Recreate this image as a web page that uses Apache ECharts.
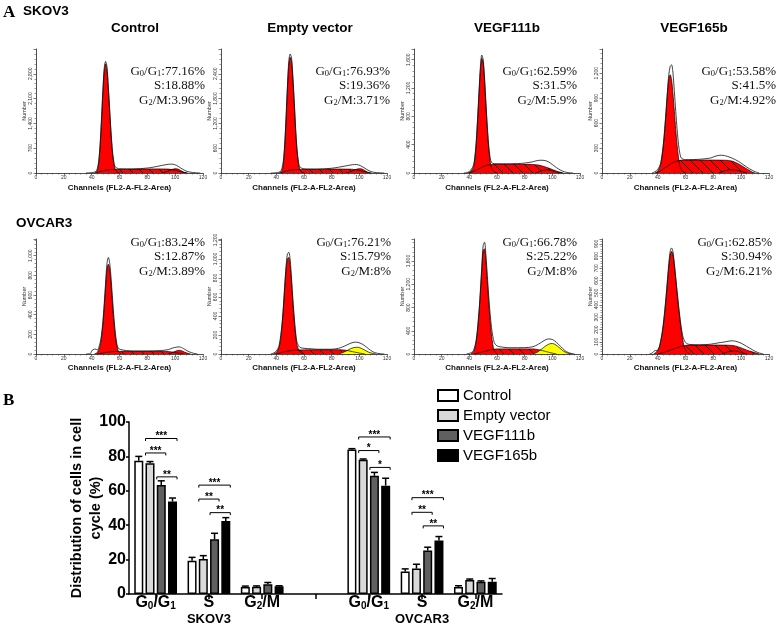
<!DOCTYPE html>
<html><head><meta charset="utf-8">
<script src="https://cdn.jsdelivr.net/npm/echarts@6/dist/echarts.min.js"></script>
<style>html,body{margin:0;padding:0;background:#fff}#c{width:778px;height:635px}</style>
</head><body><div id="c"></div>
<script>
// ================= DATA =================
// ---- Panel A: column titles, cell lines, phase percentages ----
const panelTitles = ['Control', 'Empty vector', 'VEGF111b', 'VEGF165b'];
const cellLines = ['SKOV3', 'OVCAR3'];
const skovG1 = ['77.16', '76.93', '62.59', '53.58'];
const skovS  = ['18.88', '19.36', '31.5', '41.5'];
const skovG2 = ['3.96', '3.71', '5.9', '4.92'];
const ovcG1  = ['83.24', '76.21', '66.78', '62.85'];
const ovcS   = ['12.87', '15.79', '25.22', '30.94'];
const ovcG2  = ['3.89', '8', '8', '6.21'];
const histXTitle = 'Channels (FL2-A-FL2-Area)';
const histYTitle = 'Number';
// y-axis extents / tick steps of each histogram (SKOV3 x4, then OVCAR3 x4)
const histYMax  = [3500, 3000, 1750, 1490, 1170, 1210, 1980, 940];
const histYStep = [700, 600, 400, 300, 200, 200, 400, 100];

// ---- Histogram curves  [channel, count] ----
// SKOV3 Control
const skCtlS   = [[43,0],[46,40],[50,80],[55,100],[65,105],[75,110],[85,115],[95,110],[100,80],[104,40],[108,0]];
const skCtlG1  = [[42,0],[44,60],[45,250],[46,700],[47,1400],[48,2200],[49,2850],[50,3080],[51,2900],[52,2350],[53,1700],[54,1050],[55,550],[56,250],[57,100],[58,30],[60,0]];
const skCtlG2  = [[90,0],[94,40],[97,90],[100,120],[102,110],[104,70],[106,25],[109,0]];
const skCtlRaw = [[36,0],[40,10],[43,40],[44,120],[45,320],[46,780],[47,1500],[48,2300],[49,2950],[50,3150],[51,3000],[52,2420],[53,1760],[54,1100],[55,600],[56,300],[57,170],[60,120],[70,115],[80,140],[85,170],[90,210],[95,245],[98,250],[101,215],[104,140],[107,70],[110,30],[115,5],[118,0]];
// SKOV3 Empty vector
const skEvS   = [[43,0],[46,35],[50,70],[55,85],[70,90],[85,95],[95,90],[100,65],[104,30],[108,0]];
const skEvG1  = [[42,0],[44,50],[45,200],[46,600],[47,1250],[48,2000],[49,2600],[50,2800],[51,2700],[52,2250],[53,1650],[54,1000],[55,520],[56,230],[57,90],[58,30],[60,0]];
const skEvG2  = [[90,0],[94,35],[97,80],[100,105],[102,95],[104,60],[106,20],[109,0]];
const skEvRaw = [[36,0],[41,10],[43,40],[44,100],[45,280],[46,680],[47,1350],[48,2100],[49,2700],[50,2880],[51,2780],[52,2300],[53,1700],[54,1050],[55,560],[56,270],[57,150],[60,100],[70,95],[80,115],[85,140],[90,170],[95,200],[98,205],[101,175],[104,115],[107,55],[110,20],[115,3],[118,0]];
// SKOV3 VEGF111b
const sk111S   = [[40,0],[44,30],[48,70],[52,105],[56,120],[65,122],[75,122],[85,120],[90,112],[95,85],[100,50],[104,20],[108,0]];
const sk111G1  = [[39,0],[41,20],[43,80],[44,200],[45,420],[46,750],[47,1120],[48,1450],[49,1620],[50,1560],[51,1300],[52,950],[53,620],[54,350],[55,170],[56,70],[58,15],[60,0]];
const sk111G2  = [[88,0],[92,30],[95,45],[98,40],[101,25],[104,8],[107,0]];
const sk111Raw = [[36,0],[39,10],[41,40],[43,110],[44,230],[45,450],[46,780],[47,1150],[48,1500],[49,1665],[50,1600],[51,1340],[52,990],[53,660],[54,390],[55,220],[56,150],[58,132],[65,130],[75,133],[80,140],[85,155],[88,170],[91,180],[94,178],[97,160],[100,120],[103,75],[106,40],[109,15],[112,3],[115,0]];
// SKOV3 VEGF165b
const sk165S   = [[39,0],[42,25],[46,70],[50,115],[54,145],[58,155],[70,155],[80,155],[90,152],[94,140],[98,110],[102,70],[105,40],[108,10],[110,0]];
const sk165G1  = [[38,0],[40,20],[42,90],[43,180],[44,320],[45,500],[46,720],[47,950],[48,1130],[49,1180],[50,1120],[51,950],[52,740],[53,520],[54,330],[55,180],[56,80],[58,20],[60,0]];
const sk165G2  = [[84,0],[88,25],[92,40],[96,35],[100,20],[104,0]];
const sk165Raw = [[36,0],[38,15],[40,40],[42,110],[44,330],[46,740],[47,980],[48,1180],[49,1280],[50,1300],[51,1200],[52,980],[53,740],[54,520],[55,340],[56,230],[57,180],[60,160],[70,165],[78,180],[82,205],[86,214],[90,200],[94,175],[98,140],[102,95],[106,50],[110,15],[113,0]];
// OVCAR3 Control
const ovCtlS   = [[44,0],[50,15],[55,25],[70,28],[85,28],[95,25],[100,15],[104,5],[106,0]];
const ovCtlG1  = [[42,0],[44,15],[46,80],[47,160],[48,290],[49,470],[50,680],[51,860],[52,913],[53,860],[54,700],[55,500],[56,320],[57,180],[58,90],[59,35],[61,0]];
const ovCtlG2  = [[95,0],[98,15],[101,32],[103,38],[105,30],[108,12],[111,0]];
const ovCtlRaw = [[36,0],[39,3],[40,30],[41,45],[43,50],[44,40],[46,110],[47,190],[48,320],[49,510],[50,720],[51,920],[52,982],[53,920],[54,760],[55,560],[56,370],[57,220],[58,110],[59,60],[61,45],[65,35],[70,30],[80,30],[90,35],[95,45],[98,60],[101,70],[103,72],[106,55],[109,30],[112,12],[116,0]];
// OVCAR3 Empty vector
const ovEvS   = [[40,0],[45,20],[50,35],[55,42],[70,45],[85,45],[90,40],[95,25],[100,10],[104,0]];
const ovEvG1  = [[38,0],[40,15],[42,70],[43,150],[44,280],[45,460],[46,680],[47,880],[48,1000],[49,1016],[50,930],[51,740],[52,530],[53,340],[54,190],[55,90],[57,25],[59,0]];
const ovEvG2  = [[85,0],[88,15],[91,35],[94,58],[97,70],[99,71],[101,62],[104,40],[107,18],[110,5],[112,0]];
const ovEvRaw = [[36,0],[38,10],[40,30],[42,90],[44,300],[45,480],[46,710],[47,920],[48,1050],[49,1070],[50,990],[51,790],[52,570],[53,380],[54,220],[55,120],[57,70],[60,60],[65,55],[70,50],[80,50],[85,60],[88,75],[91,95],[94,115],[97,125],[99,122],[102,105],[105,75],[108,40],[111,15],[115,3],[118,0]];
// OVCAR3 VEGF111b
const ov111S   = [[43,0],[48,25],[52,50],[56,75],[60,87],[70,88],[80,88],[87,86],[91,70],[95,45],[99,20],[103,0]];
const ov111G1  = [[41,0],[43,40],[44,100],[45,220],[46,420],[47,700],[48,1050],[49,1450],[50,1780],[51,1810],[52,1600],[53,1250],[54,900],[55,580],[56,330],[57,160],[58,60],[60,0]];
const ov111G2  = [[86,0],[89,30],[92,80],[95,135],[98,175],[100,180],[102,165],[105,110],[108,50],[111,15],[114,0]];
const ov111Raw = [[38,0],[41,20],[43,60],[45,250],[47,740],[48,1100],[49,1500],[50,1870],[51,1925],[52,1700],[53,1350],[54,1000],[55,700],[56,460],[57,300],[58,200],[60,140],[65,115],[70,108],[80,110],[86,125],[90,170],[94,230],[97,258],[100,250],[103,200],[106,130],[109,60],[112,20],[116,0]];
// OVCAR3 VEGF165b
const ov165S   = [[40,0],[45,15],[50,35],[55,55],[61,72],[70,73],[80,73],[90,72],[95,68],[100,50],[105,28],[110,10],[113,0]];
const ov165G1  = [[37,0],[39,15],[41,50],[42,90],[43,150],[44,230],[45,330],[46,450],[47,580],[48,710],[49,810],[50,839],[51,810],[52,720],[53,610],[54,490],[55,380],[56,280],[57,190],[58,120],[59,60],[61,15],[63,0]];
const ov165G2  = [[86,0],[90,15],[94,25],[97,22],[100,12],[104,0]];
const ov165Raw = [[34,0],[36,8],[38,28],[40,30],[42,100],[44,240],[46,470],[48,740],[49,840],[50,867],[51,835],[52,740],[54,510],[56,300],[58,150],[60,95],[63,78],[70,75],[78,80],[84,92],[88,98],[93,108],[96,104],[100,88],[104,62],[108,35],[112,12],[116,0]];

// ---- Panel B: bar chart ----
const phaseCats = ['G0/G1', 'S', 'G2/M', '', 'G0/G1', 'S', 'G2/M'];
const lineCats  = ['', 'SKOV3', '', '', '', 'OVCAR3', ''];
const groupNames = ['Control', 'Empty vector', 'VEGF111b', 'VEGF165b'];
const ctrlMean = [77.5, 19.3, 4.1, null, 84.0, 13.1, 4.0];
const ctrlErr  = [2.5, 2.0, 0.5, null, 0.5, 1.5, 0.8];
const evMean   = [76.0, 20.3, 4.2, null, 78.0, 14.8, 8.1];
const evErr    = [1.0, 2.0, 0.5, null, 0.5, 2.5, 0.6];
const v111Mean = [63.3, 31.8, 5.7, null, 68.7, 25.3, 7.1];
const v111Err  = [2.5, 3.5, 1.0, null, 2.0, 1.9, 0.5];
const v165Mean = [53.8, 42.4, 4.5, null, 63.0, 31.1, 7.1];
const v165Err  = [2.0, 2.0, 0.3, null, 4.3, 2.3, 1.9];
const yTitleB = 'Distribution of cells in cell\ncycle (%)';
// significance brackets: category index, from bar, to bar, height (%), stars
const brCat   = [0, 0, 0, 1, 1, 1, 4, 4, 4, 5, 5, 5];
const brFrom  = [1, 1, 2, 1, 1, 2, 1, 1, 2, 1, 1, 2];
const brTo    = [3, 2, 3, 3, 2, 3, 3, 2, 3, 3, 2, 3];
const brY     = [90.4, 82.0, 68.1, 63.3, 55.2, 47.3, 91.3, 83.4, 73.6, 56.0, 47.5, 39.6];
const brStars = ['***', '***', '**', '***', '**', '**', '***', '*', '*', '***', '**', '**'];

// ================= LAYOUT / STYLE =================
const SANS = 'Arial, "Liberation Sans", sans-serif';
const SERIF = '"Times New Roman", "Liberation Serif", serif';
const histLeft = [36, 221, 414, 602];
const histWidth = [167, 166, 166, 167];
const rowTop = [49, 239];
const rowHeight = [124, 115];
const annotRight = [[205, 390, 577, 776], [205, 391, 577, 772]];
const annotTop = [64, 235];
const titleCenter = [135, 310, 507, 694];
const RED = '#ff0000', YELLOW = '#ffff00';
const g2Colors = [RED, RED, RED, RED, RED, YELLOW, YELLOW, RED];
const barColors = ['#ffffff', '#d9d9d9', '#606060', '#000000'];
const BAR_W = 9, BAR_STEP = 11.25;

const histSets = [
  [skCtlS, skCtlG1, skCtlG2, skCtlRaw], [skEvS, skEvG1, skEvG2, skEvRaw],
  [sk111S, sk111G1, sk111G2, sk111Raw], [sk165S, sk165G1, sk165G2, sk165Raw],
  [ovCtlS, ovCtlG1, ovCtlG2, ovCtlRaw], [ovEvS, ovEvG1, ovEvG2, ovEvRaw],
  [ov111S, ov111G1, ov111G2, ov111Raw], [ov165S, ov165G1, ov165G2, ov165Raw]
];
const phaseRows = [[skovG1, skovS, skovG2], [ovcG1, ovcS, ovcG2]];

function makeHatch() {
  const c = document.createElement('canvas');
  c.width = 10; c.height = 10;
  const g = c.getContext('2d');
  g.fillStyle = RED; g.fillRect(0, 0, 10, 10);
  g.strokeStyle = '#000'; g.lineWidth = 0.9;
  g.beginPath();
  g.moveTo(0, 0); g.lineTo(10, 10);
  g.moveTo(-2, 8); g.lineTo(2, 12);
  g.moveTo(8, -2); g.lineTo(12, 2);
  g.stroke();
  return c;
}
const hatch = { image: makeHatch(), repeat: 'repeat' };

const grids = [], xAxes = [], yAxes = [], series = [], titles = [];
const T = (o) => Object.assign({ padding: 0 }, o);

titles.push(T({ text: 'A', left: 3, top: 4, textStyle: { fontFamily: SERIF, fontWeight: 'bold', fontSize: 17, color: '#000' } }));
titles.push(T({ text: 'B', left: 3, top: 392, textStyle: { fontFamily: SERIF, fontWeight: 'bold', fontSize: 17, color: '#000' } }));
titles.push(T({ text: cellLines[0], left: 23, top: 4, textStyle: { fontFamily: SANS, fontWeight: 'bold', fontSize: 13.5, color: '#000' } }));
titles.push(T({ text: cellLines[1], left: 16, top: 216, textStyle: { fontFamily: SANS, fontWeight: 'bold', fontSize: 13.5, color: '#000' } }));
panelTitles.forEach((t, i) => titles.push(T({
  text: t, left: titleCenter[i], top: 21, textAlign: 'center',
  textStyle: { fontFamily: SANS, fontWeight: 'bold', fontSize: 13.5, color: '#000' }
})));

for (let k = 0; k < 8; k++) {
  const row = Math.floor(k / 4), col = k % 4;
  grids.push({ left: histLeft[col], top: rowTop[row], width: histWidth[col], height: rowHeight[row], containLabel: false, outerBoundsMode: 'none' });
  xAxes.push({
    type: 'value', gridIndex: k, min: 0, max: 120, interval: 20,
    axisLine: { show: true, onZero: false, lineStyle: { color: '#222', width: 0.8 } },
    axisTick: { show: true, length: 2.5, lineStyle: { color: '#222', width: 0.6 } },
    minorTick: { show: true, splitNumber: 5, length: 1.5, lineStyle: { color: '#333', width: 0.5 } },
    splitLine: { show: false },
    axisLabel: { fontSize: 5, margin: 2.5, color: '#333', fontFamily: SANS },
    name: histXTitle, nameLocation: 'middle', nameGap: row === 0 ? 11 : 9.5, nameMoveOverlap: false,
    nameTextStyle: { fontFamily: SANS, fontWeight: 'bold', fontSize: 8, color: '#111' }
  });
  yAxes.push({
    type: 'value', gridIndex: k, min: 0, max: histYMax[k], interval: histYStep[k],
    axisLine: { show: true, lineStyle: { color: '#222', width: 0.8 } },
    axisTick: { show: true, length: 2.5, lineStyle: { color: '#222', width: 0.6 } },
    minorTick: { show: true, splitNumber: 5, length: 1.5, lineStyle: { color: '#333', width: 0.5 } },
    splitLine: { show: false },
    axisLabel: { fontSize: 5, rotate: 90, margin: 3, color: '#333', showMaxLabel: false, fontFamily: SANS },
    name: histYTitle, nameLocation: 'middle', nameGap: 9, nameRotate: 90, nameMoveOverlap: false,
    nameTextStyle: { fontFamily: SANS, fontSize: 5.5, color: '#333' }
  });
  const [sD, g1D, g2D, rawD] = histSets[k];
  const base = { type: 'line', xAxisIndex: k, yAxisIndex: k, showSymbol: false, symbol: 'none', smooth: 0.3, silent: true };
  series.push(Object.assign({}, base, { data: sD, smooth: 0.15, lineStyle: { color: '#000', width: 0.7 }, areaStyle: { color: hatch, opacity: 1 } }));
  series.push(Object.assign({}, base, { data: g1D, lineStyle: { color: '#000', width: 0.7 }, areaStyle: { color: RED, opacity: 1 } }));
  series.push(Object.assign({}, base, { data: g2D, lineStyle: { color: '#000', width: 0.7 }, areaStyle: { color: g2Colors[k], opacity: 1 } }));
  series.push(Object.assign({}, base, { data: rawD, lineStyle: { color: '#111', width: 0.8 } }));

  const ph = phaseRows[row];
  titles.push(T({
    text: 'G{s|0}/G{s|1}:' + ph[0][col] + '%\nS:' + ph[1][col] + '%\nG{s|2}/M:' + ph[2][col] + '%',
    left: annotRight[row][col], top: annotTop[row], textAlign: 'right',
    textStyle: {
      fontFamily: SERIF, fontSize: 13, fontWeight: 'normal', color: '#111', lineHeight: 14.5,
      rich: { s: { fontFamily: SERIF, fontSize: 8.5, lineHeight: 8, verticalAlign: 'bottom', color: '#111' } }
    }
  }));
}

// ---- Panel B ----
const BG = 8;
grids.push({ left: 129, top: 422, width: 373, height: 172, containLabel: false, outerBoundsMode: 'none' });
const subFmt = v => v.replace(/G(\d)/g, 'G{s|$1}');
xAxes.push({
  type: 'category', gridIndex: BG, data: phaseCats, position: 'bottom',
  axisLine: { show: true, lineStyle: { color: '#000', width: 1.5 } },
  axisTick: { show: true, alignWithLabel: true, length: 5, lineStyle: { color: '#000', width: 1.5 } },
  axisLabel: {
    interval: 0, margin: 1, formatter: subFmt, fontFamily: SANS, fontWeight: 'bold', fontSize: 16, lineHeight: 16, color: '#000',
    rich: { s: { fontFamily: SANS, fontWeight: 'bold', fontSize: 10, lineHeight: 8, verticalAlign: 'bottom', color: '#000' } }
  }
});
xAxes.push({
  type: 'category', gridIndex: BG, data: lineCats, position: 'bottom', offset: 17,
  axisLine: { show: false }, axisTick: { show: false },
  axisLabel: { interval: 0, margin: 1, fontFamily: SANS, fontWeight: 'bold', fontSize: 13, lineHeight: 14, color: '#000' }
});
yAxes.push({
  type: 'value', gridIndex: BG, min: 0, max: 100, interval: 20,
  axisLine: { show: true, lineStyle: { color: '#000', width: 1.5 } },
  axisTick: { show: true, length: 3, lineStyle: { color: '#000', width: 1.5 } },
  splitLine: { show: false },
  axisLabel: { fontFamily: SANS, fontWeight: 'bold', fontSize: 16, color: '#000', margin: 3 },
  name: yTitleB, nameLocation: 'middle', nameRotate: 90, nameGap: 24, nameMoveOverlap: false,
  nameTextStyle: { fontFamily: SANS, fontWeight: 'bold', fontSize: 14.5, lineHeight: 19, color: '#000', align: 'center' }
});
const means = [ctrlMean, evMean, v111Mean, v165Mean];
const errs = [ctrlErr, evErr, v111Err, v165Err];
groupNames.forEach((n, s) => series.push({
  name: n, type: 'bar', xAxisIndex: BG, yAxisIndex: BG, data: means[s], barWidth: BAR_W, barGap: '25%',
  itemStyle: { color: barColors[s], borderColor: '#000', borderWidth: 1.5 }, silent: true
}));
const errData = [];
means.forEach((m, s) => m.forEach((v, c) => { if (v != null) errData.push([c, s, v, errs[s][c]]); }));
series.push({
  type: 'custom', xAxisIndex: BG, yAxisIndex: BG, data: errData, encode: { x: 0, y: 2 }, silent: true, z: 3,
  renderItem(params, api) {
    const c = api.value(0), s = api.value(1), m = api.value(2), e = api.value(3);
    const p0 = api.coord([c, m]), p1 = api.coord([c, m + e]);
    const x = p0[0] + (s - 1.5) * BAR_STEP;
    return { type: 'group', children: [
      { type: 'line', shape: { x1: x, y1: p0[1], x2: x, y2: p1[1] }, style: { stroke: '#000', lineWidth: 1.5 } },
      { type: 'line', shape: { x1: x - 3.5, y1: p1[1], x2: x + 3.5, y2: p1[1] }, style: { stroke: '#000', lineWidth: 1.5 } }
    ] };
  }
});
const brData = brCat.map((c, i) => [c, brFrom[i], brTo[i], brY[i]]);
series.push({
  type: 'custom', xAxisIndex: BG, yAxisIndex: BG, data: brData, encode: { x: 0, y: 3 }, silent: true, z: 4,
  renderItem(params, api) {
    const c = api.value(0), f = api.value(1), t = api.value(2), y = api.value(3);
    const p = api.coord([c, y]);
    const xl = p[0] + (f - 1.5) * BAR_STEP - BAR_W / 2;
    const xr = p[0] + (t - 1.5) * BAR_STEP + BAR_W / 2;
    return { type: 'group', children: [
      { type: 'polyline', shape: { points: [[xl, p[1] + 2.5], [xl, p[1]], [xr, p[1]], [xr, p[1] + 2.5]] }, style: { stroke: '#000', lineWidth: 1, fill: null } },
      { type: 'text', x: (xl + xr) / 2, y: p[1] + 3, style: { text: brStars[params.dataIndex], textAlign: 'center', textVerticalAlign: 'bottom', font: 'bold 10px ' + SANS, fill: '#000' } }
    ] };
  }
});

const option = {
  animation: false, backgroundColor: '#fff',
  textStyle: { fontFamily: SANS },
  title: titles,
  legend: {
    data: groupNames, orient: 'vertical', left: 437, top: 388, padding: 0, itemWidth: 20, itemHeight: 11, itemGap: 5,
    icon: 'rect', textStyle: { fontFamily: SANS, fontSize: 15, color: '#000' }, selectedMode: false
  },
  grid: grids, xAxis: xAxes, yAxis: yAxes, series: series
};
const chart = echarts.init(document.getElementById('c'), null, { renderer: 'canvas' });
chart.setOption(option);
</script></body></html>
